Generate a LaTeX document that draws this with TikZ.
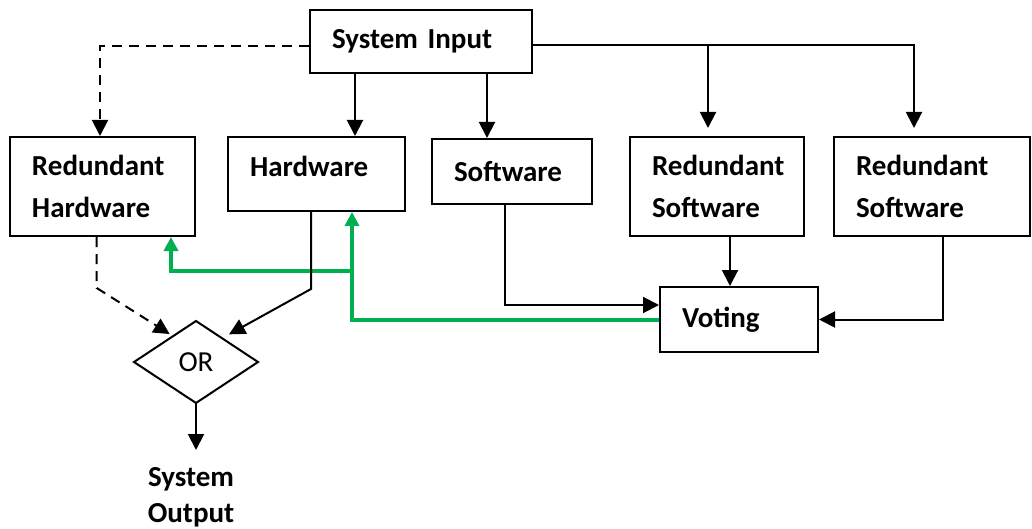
\documentclass[tikz,border=0pt]{standalone}
\usepackage{fontspec}
\setmainfont{Carlito}
\usepackage{tikz}
\usetikzlibrary{arrows.meta, shapes}
\usetikzlibrary{positioning}
\usetikzlibrary{calc}
\tikzset{>={Triangle[width=8pt,length=8pt]}}
\definecolor{votegreen}{RGB}{0,176,80}

\begin{document}
\begin{tikzpicture}[x=0.5pt,y=-0.5pt,line width=1pt]
		\tikzstyle{block}=[draw=black,line width=1pt,align=left,inner xsep=11pt,inner ysep=0pt,
			font=\fontsize{14.5}{21}\selectfont\bfseries]
		\tikzstyle{spare}=[dash pattern=on 5pt off 3.5pt]
		\tikzstyle{feedback}=[draw=votegreen,line width=2pt,->,>={Triangle[width=7pt,length=7pt]}]
		\useasboundingbox (0,0) rectangle (1032,529);

		\node[block,text width=89pt,minimum height=31.5pt] (SI)  at (421,41.5)  {System Input};
		\node[block,text width=70.5pt,minimum height=49.5pt] (RH) at (102.5,186.5) {Redundant\\Hardware};
		\node[block,text width=66.5pt,minimum height=37pt,text depth=8pt] (HW)  at (316.5,174) {Hardware};
		\node[block,text width=58pt,minimum height=32.5pt] (SW)  at (512,171.5) {Software};
		\node[block,text width=65pt,minimum height=49.5pt] (RS1) at (717,186.5) {Redundant\\Software};
		\node[block,text width=76pt,minimum height=49.5pt] (RS2) at (932,186.5) {Redundant\\Software};
		\node[block,text width=57pt,minimum height=32.5pt] (VO)  at (739,319.5) {Voting};
		\node[diamond,draw,line width=1pt,minimum width=62pt,minimum height=41pt,inner sep=0pt,outer sep=0pt,
			font=\fontsize{14.5}{21}\selectfont] (OR) at (196,362) {OR};
		\node[align=center,font=\fontsize{14.5}{18}\selectfont\bfseries] (OUT) at (191,497) {System\\Output};
		\coordinate (OUTtip) at ([yshift=-23.5pt]OR.south);
		\coordinate (gsplit) at ([xshift=17.75pt,yshift=-29.5pt]HW.south);

		% voting feeds back to the hardware
		\draw[feedback] (VO.west) -| ([xshift=17.75pt]HW.south);
		\draw[feedback] (gsplit) -| ([xshift=34.25pt]RH.south);

		\draw[spare,->] ([yshift=-2.25pt]SI.west) -| ([xshift=-1.25pt]RH.north);
		\draw[->] ([xshift=-33pt]SI.south) -- ([xshift=-33pt]SI.south |- HW.north);
		\draw[->] ([xshift=33pt]SI.south) -- ([xshift=33pt]SI.south |- SW.north);
		\draw[->,shorten >=4pt] ([yshift=-2pt]SI.east) -| ([xshift=-4.5pt]RS1.north);
		\draw[->,shorten >=4pt] ([yshift=-2pt]SI.east) -| ([xshift=-9pt]RS2.north);

		\draw[->] ([xshift=-3.5pt]SW.south) |- ([yshift=7.25pt]VO.west);
		\draw[->] ([xshift=6.5pt]RS1.south) -- ([xshift=6.5pt]RS1.south |- VO.north);
		\draw[->] ([xshift=5.5pt]RS2.south) |- (VO.east);

		\draw[spare,->,shorten >=2pt] ([xshift=-2.9pt]RH.south) -- ++(0,-25.5pt) -- ($(OR.north)!0.37!(OR.west)$);
		\draw[->,shorten >=4pt] ([xshift=-2.75pt]HW.south) -- ++(0,-38.5pt) -- ($(OR.north)!0.42!(OR.east)$);
		\draw[->] (OR.south) -- (OUTtip);
\end{tikzpicture}
\end{document}
